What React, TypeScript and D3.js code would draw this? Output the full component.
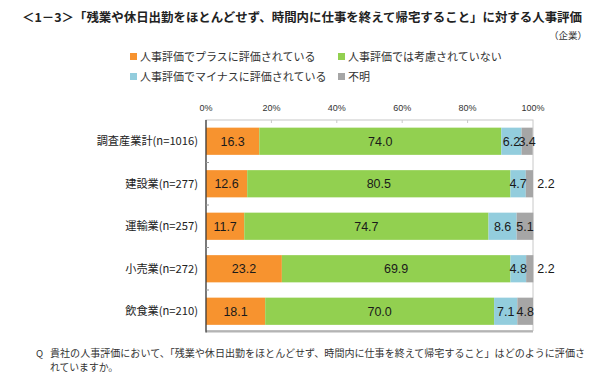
import * as React from "react";
import * as d3 from "d3";

const categories = [
  "調査産業計(n=1016)",
  "建設業(n=277)",
  "運輸業(n=257)",
  "小売業(n=272)",
  "飲食業(n=210)",
];
const seriesNames = [
  "人事評価でプラスに評価されている",
  "人事評価では考慮されていない",
  "人事評価でマイナスに評価されている",
  "不明",
];
const plusValues = [16.3, 12.6, 11.7, 23.2, 18.1];
const neutralValues = [74.0, 80.5, 74.7, 69.9, 70.0];
const minusValues = [6.2, 4.7, 8.6, 4.8, 7.1];
const unknownValues = [3.4, 2.2, 5.1, 2.2, 4.8];
const xTicks = [0, 20, 40, 60, 80, 100];

const colors = ["#F7932F", "#92D050", "#93CDDD", "#A6A6A6"];
const jp = "'Noto Sans CJK JP', sans-serif";
const latin = "'Liberation Sans', Arial, 'Noto Sans CJK JP', sans-serif";

const App = () => {
  const width = 600;
  const height = 384;
  const left = 206;
  const right = 533;
  const top = 120;
  const bottom = 332.5;

  const series = [plusValues, neutralValues, minusValues, unknownValues];

  const xScale = d3.scaleLinear().domain([0, 100]).range([left, right]);
  const yScale = d3
    .scaleBand()
    .domain(categories)
    .range([top, bottom])
    .paddingInner(0.36)
    .paddingOuter(0.18);

  const stackRows = categories.map((c, i) => {
    const row: any = { cat: c };
    series.forEach((s, k) => (row["s" + k] = s[i]));
    return row;
  });
  const stacked = d3.stack().keys(["s0", "s1", "s2", "s3"])(stackRows);

  const step = yScale.step();

  return (
    <svg width={width} height={height} style={{ display: "block", position: "absolute", left: 0, top: 0, background: "#fff" }}>
      {/* title */}
      <text x={22} y={22} fontFamily={jp} fontWeight="bold" fontSize={12.2} fill="#222" textLength={560} lengthAdjust="spacingAndGlyphs">
        ＜1－3＞「残業や休日出勤をほとんどせず、時間内に仕事を終えて帰宅すること」に対する人事評価
      </text>
      <text x={587} y={39} fontFamily={jp} fontSize={9.5} fill="#333" textAnchor="end">
        （企業）
      </text>

      {/* legend */}
      {seriesNames.map((name, k) => {
        const lx = k % 2 === 0 ? 130 : 338;
        const ly = k < 2 ? 57 : 77;
        return (
          <g key={name}>
            <rect x={lx} y={ly - 4} width={7} height={7} fill={colors[k]} />
            <text x={lx + 10} y={ly + 4} fontFamily={jp} fontSize={11} fill="#333">
              {name}
            </text>
          </g>
        );
      })}

      {/* x tick labels */}
      {xTicks.map((t) => (
        <text key={t} x={xScale(t)} y={111} fontFamily={latin} fontSize={9} fill="#333" textAnchor="middle">
          {t}%
        </text>
      ))}

      {/* plot border */}
      <rect x={left} y={top} width={right - left} height={bottom - top - 2} fill="none" stroke="#C8C8C8" strokeWidth={1} />
      <line x1={left} x2={right} y1={bottom - 1} y2={bottom - 1} stroke="#B4B4B4" strokeWidth={2} />

      {/* top ticks */}
      {xTicks.slice(1, -1).map((t) => (
        <line key={t} x1={xScale(t)} x2={xScale(t)} y1={top} y2={top + 3} stroke="#C8C8C8" />
      ))}

      {/* bars */}
      {stacked.map((layer, k) =>
        layer.map((d, i) => (
          <rect
            key={k + "-" + i}
            x={xScale(d[0])}
            y={yScale(categories[i])}
            width={xScale(d[1]) - xScale(d[0])}
            height={yScale.bandwidth()}
            fill={colors[k]}
          />
        ))
      )}

      {/* value labels */}
      {stacked.map((layer, k) =>
        layer.map((d, i) => {
          const v = series[k][i];
          const outside = k === 3 && v < 3;
          const cx = outside ? xScale(100) + 13 : xScale((d[0] + d[1]) / 2);
          return (
            <text
              key={"l" + k + "-" + i}
              x={cx}
              y={yScale(categories[i])! + yScale.bandwidth() / 2 + 4.5}
              fontFamily={latin}
              fontSize={12.5}
              fill="#1a1a1a"
              textAnchor="middle"
            >
              {v.toFixed(1)}
            </text>
          );
        })
      )}

      {/* y axis */}
      <line x1={left} x2={left} y1={top} y2={bottom} stroke="#333" strokeWidth={1.2} />
      {categories.map((c, i) =>
        i === 0 ? null : (
          <line key={"t" + c} x1={left} x2={left + 3} y1={yScale(c)! - step * 0.18} y2={yScale(c)! - step * 0.18} stroke="#999" />
        )
      )}
      {categories.map((c) => (
        <text
          key={c}
          x={198}
          y={yScale(c)! + yScale.bandwidth() / 2 + 4}
          fontFamily={jp}
          fontSize={11.2}
          fill="#222"
          textAnchor="end"
        >
          {c}
        </text>
      ))}

      {/* footnote */}
      <text x={36} y={357} fontFamily={jp} fontSize={9.6} fill="#333">
        Q
      </text>
      <text x={50} y={357} fontFamily={jp} fontSize={9.8} fill="#333" textLength={535} lengthAdjust="spacingAndGlyphs">
        貴社の人事評価において、「残業や休日出勤をほとんどせず、時間内に仕事を終えて帰宅すること」はどのように評価さ
      </text>
      <text x={50} y={371} fontFamily={jp} fontSize={9.8} fill="#333">
        れていますか。
      </text>
    </svg>
  );
};

export default App;
